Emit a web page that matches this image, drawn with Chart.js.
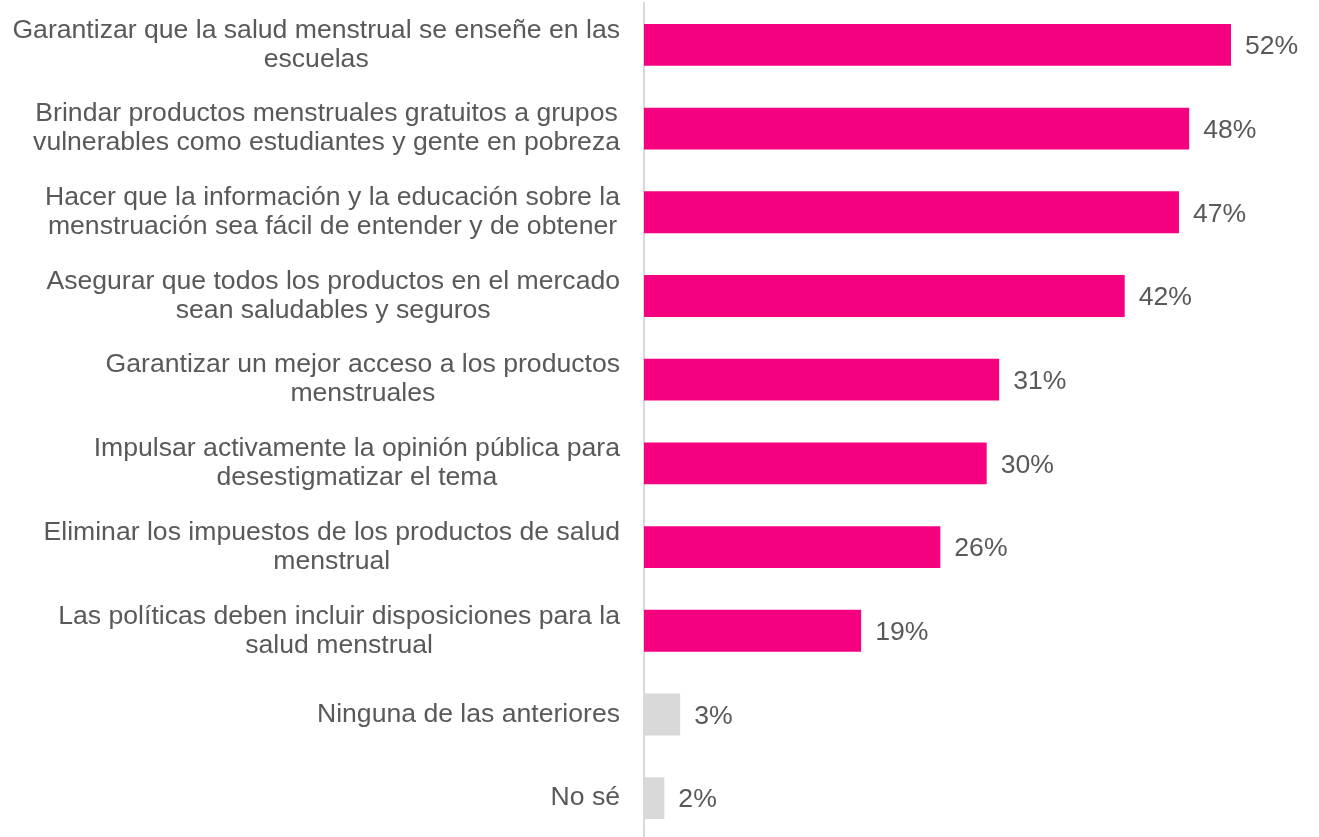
<!DOCTYPE html>
<html>
<head>
<meta charset="utf-8">
<style>
  html, body { margin: 0; padding: 0; background: #fff; overflow: hidden; }
  #wrap { width: 1319px; height: 840px; position: relative; }
</style>
<script src="https://cdn.jsdelivr.net/npm/chart.js@4/dist/chart.umd.min.js"></script>
</head>
<body>
<div id="wrap"><canvas id="chart"></canvas></div>
<script>
// categories (each entry = lines of the label)
var categories = [
    ['Garantizar que la salud menstrual se enseñe en las', 'escuelas'],
    ['Brindar productos menstruales gratuitos a grupos', 'vulnerables como estudiantes y gente en pobreza'],
    ['Hacer que la información y la educación sobre la', 'menstruación sea fácil de entender y de obtener'],
    ['Asegurar que todos los productos en el mercado', 'sean saludables y seguros'],
    ['Garantizar un mejor acceso a los productos', 'menstruales'],
    ['Impulsar activamente la opinión pública para', 'desestigmatizar el tema'],
    ['Eliminar los impuestos de los productos de salud', 'menstrual'],
    ['Las políticas deben incluir disposiciones para la', 'salud menstrual'],
    ['Ninguna de las anteriores'],
    ['No sé']
];
// share of respondents, %
var values = [51.9, 48.2, 47.3, 42.5, 31.4, 30.3, 26.2, 19.2, 3.2, 1.8];
var valueLabels = ['52%', '48%', '47%', '42%', '31%', '30%', '26%', '19%', '3%', '2%'];

var PINK = '#f5007f';
var GREY = '#d9d9d9';
var TEXT = '#595959';
var FONT = '"Liberation Sans", Arial, sans-serif';

var barColors = values.map(function (v, i) { return i < 8 ? PINK : GREY; });

// draws category labels (centred lines, block right-aligned) and value labels
var labelPlugin = {
    id: 'labels',
    afterDatasetsDraw: function (chart) {
        var ctx = chart.ctx;
        var yScale = chart.scales.y;
        var meta = chart.getDatasetMeta(0);
        ctx.save();
        ctx.fillStyle = TEXT;
        ctx.font = '26.6px ' + FONT;
        ctx.textBaseline = 'middle';
        ctx.textAlign = 'center';
        var rightEdge = 620;
        var lineH = 29;
        categories.forEach(function (lines, i) {
            var yc = yScale.getPixelForTick(i);
            var w = 0;
            lines.forEach(function (l) { w = Math.max(w, ctx.measureText(l).width); });
            var cx = rightEdge - w / 2;
            var y0 = yc - (lines.length - 1) * lineH / 2;
            lines.forEach(function (l, k) { ctx.fillText(l, cx, y0 + k * lineH); });
        });
        ctx.textAlign = 'left';
        meta.data.forEach(function (bar, i) {
            ctx.fillText(valueLabels[i], bar.x + 14, bar.y + 2);
        });
        ctx.restore();
    }
};

new Chart(document.getElementById('chart'), {
    type: 'bar',
    data: {
        labels: categories,
        datasets: [{
            data: values,
            backgroundColor: barColors,
            borderWidth: 0,
            categoryPercentage: 1,
            barPercentage: 0.5
        }]
    },
    plugins: [labelPlugin],
    options: {
        indexAxis: 'y',
        responsive: true,
        maintainAspectRatio: false,
        animation: false,
        layout: { padding: { left: 644, right: 19, top: 3, bottom: 0 } },
        plugins: {
            legend: { display: false },
            tooltip: { enabled: false }
        },
        scales: {
            x: {
                display: false,
                min: 0,
                max: 58
            },
            y: {
                ticks: { display: false },
                grid: { display: false, drawTicks: false },
                border: { display: true, color: GREY, width: 2 },
                afterFit: function (scale) { scale.width = 0; }
            }
        }
    }
});
</script>
</body>
</html>
